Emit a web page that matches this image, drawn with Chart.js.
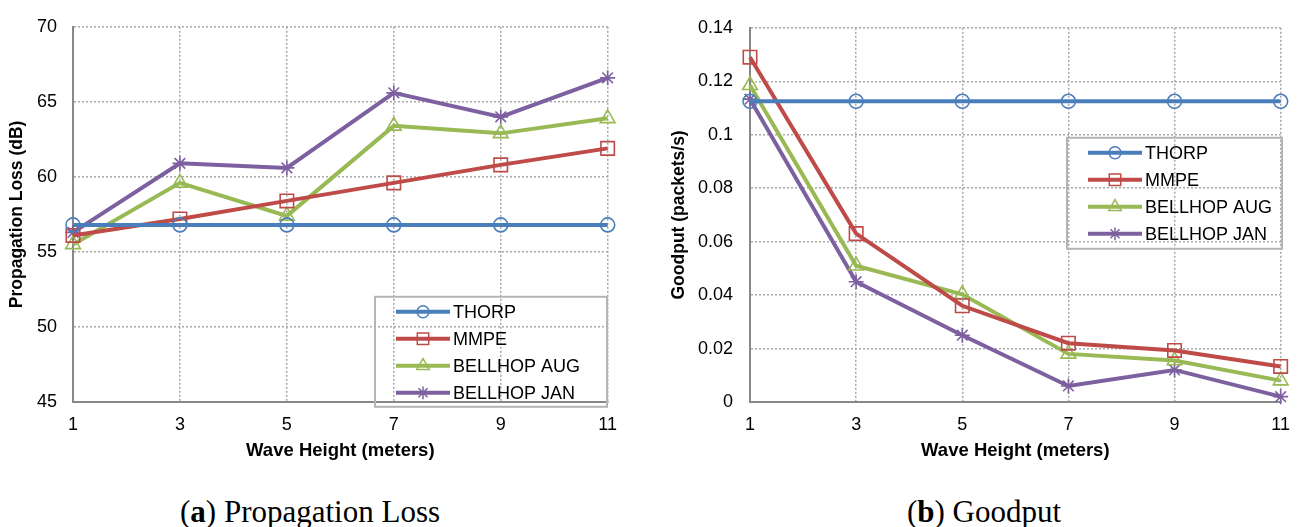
<!DOCTYPE html>
<html>
<head>
<meta charset="utf-8">
<script src="https://cdn.jsdelivr.net/npm/chart.js@4/dist/chart.umd.min.js"></script>
<style>
  body { margin: 0; background: #fff; width: 1300px; height: 527px; position: relative; overflow: hidden; }
  #lossCanvas { position: absolute; left: 0; top: 0; }
  #goodCanvas { position: absolute; left: 650px; top: 0; }
  .caption { position: absolute; top: 492px; width: 400px; text-align: center;
             font-family: "Liberation Serif", "Times New Roman", serif; font-size: 31px; color: #000; line-height: 40px; }
</style>
</head>
<body>
<canvas id="lossCanvas" width="629" height="470"></canvas>
<canvas id="goodCanvas" width="652" height="470"></canvas>
<div class="caption" style="left:110px">(<b>a</b>) Propagation Loss</div>
<div class="caption" style="left:784px">(<b>b</b>) Goodput</div>
<script>
// wave heights on the x axis
const waveHeights = ['1', '3', '5', '7', '9', '11'];
const seriesNames = ['THORP', 'MMPE', 'BELLHOP AUG', 'BELLHOP JAN'];

// (a) propagation loss, dB
const lossThorp = [56.8, 56.8, 56.8, 56.8, 56.8, 56.8];
const lossMmpe = [56.1, 57.2, 58.4, 59.6, 60.8, 61.9];
const lossAug = [55.5, 59.6, 57.4, 63.4, 62.9, 63.9];
const lossJan = [56.3, 60.9, 60.6, 65.6, 64.0, 66.6];

// (b) goodput, packets/s
const goodThorp = [0.1125, 0.1125, 0.1125, 0.1125, 0.1125, 0.1125];
const goodMmpe = [0.129, 0.063, 0.036, 0.022, 0.0193, 0.0133];
const goodAug = [0.1185, 0.051, 0.0403, 0.018, 0.0155, 0.008];
const goodJan = [0.1133, 0.045, 0.025, 0.006, 0.012, 0.002];

const colors = ['#4A7EBB', '#BE4B48', '#98B954', '#7D60A0'];
const markers = ['circle', 'rect', 'triangle', 'star'];
const markerSize = [7, 9.5, 8.5, 7.5];
const FONT = '"Liberation Sans", Arial, sans-serif';

function makeDatasets(values) {
  return values.map((data, i) => ({
    label: seriesNames[i],
    data: data,
    borderColor: colors[i],
    borderWidth: 4,
    pointStyle: markers[i],
    pointRadius: markerSize[i],
    pointBorderWidth: 1.6,
    pointBorderColor: colors[i],
    pointBackgroundColor: 'rgba(255,255,255,0)',
    tension: 0,
    clip: false,
  }));
}

// legend box drawn inside the plot area, like the spreadsheet original
const boxLegend = {
  id: 'boxLegend',
  afterDatasetsDraw(chart, args, opts) {
    const ctx = chart.ctx;
    const x = chart.chartArea.left + opts.x;
    const y = chart.chartArea.top + opts.y;
    ctx.save();
    ctx.strokeStyle = '#b4b4b4';
    ctx.lineWidth = 2;
    ctx.strokeRect(x, y, opts.width, opts.height);
    ctx.font = '18px ' + FONT;
    ctx.textBaseline = 'middle';
    chart.data.datasets.forEach((ds, i) => {
      const ry = y + 15 + i * 27;
      ctx.strokeStyle = ds.borderColor;
      ctx.lineWidth = 4;
      ctx.beginPath();
      ctx.moveTo(x + 21, ry);
      ctx.lineTo(x + 75, ry);
      ctx.stroke();
      ctx.lineWidth = 1.5;
      ctx.fillStyle = 'rgba(255,255,255,0)';
      Chart.helpers.drawPoint(ctx, {
        pointStyle: ds.pointStyle, radius: ds.pointRadius * 0.85, rotation: 0, borderWidth: 1.5
      }, x + 48, ry);
      ctx.fillStyle = '#000';
      ctx.fillText(ds.label, x + 78, ry + 1);
    });
    ctx.restore();
  }
};

function makeChart(id, values, yOpts, yTitle, legendPos, pad) {
  return new Chart(document.getElementById(id), {
    type: 'line',
    data: { labels: waveHeights, datasets: makeDatasets(values) },
    plugins: [boxLegend],
    options: {
      responsive: false,
      animation: false,
      layout: { padding: { left: 0, right: 0, top: 22, bottom: 0 } },
      plugins: {
        legend: { display: false },
        tooltip: { enabled: false },
        boxLegend: legendPos,
      },
      scales: {
        x: {
          type: 'category',
          offset: false,
          afterFit: (s) => { s.height = 68; },
          grid: { color: '#a8a8a8', lineWidth: 1.5, drawTicks: false, offset: false },
          border: { display: true, color: '#888', width: 2, dash: [2, 2] },
          ticks: { color: '#000', font: { family: FONT, size: 18 }, padding: 12, maxRotation: 0 },
          title: {
            display: true, text: 'Wave Height (meters)', color: '#000',
            font: { family: FONT, size: 18.5, weight: 'bold' }, padding: { top: 0, bottom: 8 }
          }
        },
        y: {
          min: yOpts.min,
          max: yOpts.max,
          afterFit: (s) => { s.width = pad.axis; },
          grid: { color: '#a8a8a8', lineWidth: 1.5, drawTicks: false },
          border: { display: true, color: '#888', width: 2, dash: [2, 2] },
          ticks: {
            stepSize: yOpts.step, color: '#000', font: { family: FONT, size: 18 }, padding: pad.tick,
            callback: (v) => String(+v.toFixed(2))
          },
          title: {
            display: true, text: yTitle, color: '#000',
            font: { family: FONT, size: 17.5, weight: 'bold' }, padding: { top: pad.title, bottom: 0 }
          }
        }
      }
    }
  });
}

makeChart('lossCanvas', [lossThorp, lossMmpe, lossAug, lossJan],
  { min: 45, max: 70, step: 5 }, 'Propagation Loss (dB)',
  { x: 302, y: 270, width: 232, height: 110 },
  { axis: 73, tick: 16, title: 7 });

makeChart('goodCanvas', [goodThorp, goodMmpe, goodAug, goodJan],
  { min: 0, max: 0.14, step: 0.02 }, 'Goodput (packets/s)',
  { x: 317, y: 110, width: 215, height: 111 },
  { axis: 100, tick: 17, title: 19 });
</script>
</body>
</html>
